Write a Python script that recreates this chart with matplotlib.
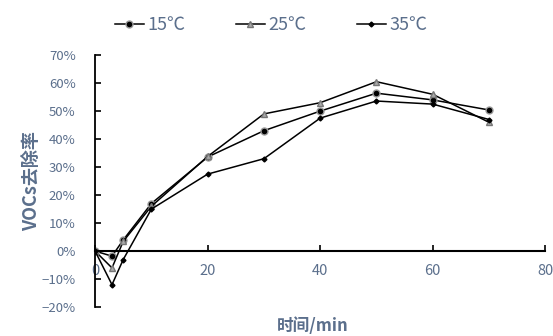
import matplotlib.pyplot as plt
from matplotlib.ticker import PercentFormatter

plt.rcParams['font.family'] = ['Noto Sans CJK SC', 'DejaVu Sans']

time_min = [0, 3, 5, 10, 20, 30, 40, 50, 60, 70]
r15 = [0, -1.8, 4.0, 17.0, 33.6, 43.0, 50.0, 56.4, 54.0, 50.4]
r25 = [0, -6.0, 3.5, 16.0, 33.8, 49.0, 53.0, 60.5, 56.0, 46.0]
r35 = [0, -12.0, -3.0, 15.0, 27.5, 33.0, 47.5, 53.6, 52.5, 47.0]
labels = ["15℃", "25℃", "35℃"]

text_color = "#5b6f8c"

fig = plt.figure(figsize=(5.53, 3.36), dpi=100)
ax = fig.add_axes([0.172, 0.086, 0.814, 0.75])

ax.plot(time_min, r15, color="black", linewidth=1.1, marker="o",
        markersize=5, markerfacecolor="black", markeredgecolor="#999999",
        label=labels[0])
ax.plot(time_min, r25, color="black", linewidth=1.1, marker="^",
        markersize=5, markerfacecolor="#aaaaaa", markeredgecolor="#777777",
        label=labels[1])
ax.plot(time_min, r35, color="black", linewidth=1.1, marker="D",
        markersize=2.5, markerfacecolor="black", markeredgecolor="black",
        label=labels[2])

ax.set_xlim(0, 80)
ax.set_ylim(-20, 70)
ax.set_xticks([0, 20, 40, 60, 80])
ax.set_yticks(range(-20, 71, 10))
ax.yaxis.set_major_formatter(PercentFormatter(decimals=0))

ax.spines["top"].set_visible(False)
ax.spines["right"].set_visible(False)
ax.spines["bottom"].set_position(("data", 0))
ax.spines["bottom"].set_linewidth(1.5)
ax.spines["left"].set_linewidth(1.3)

ax.tick_params(axis="both", direction="in", length=4, width=1.2,
               colors="black", labelcolor=text_color, labelsize=9.5)
ax.tick_params(axis="y", pad=14)
ax.tick_params(axis="x", labelsize=10.5, pad=9)

ax.set_ylabel("VOCs去除率", color=text_color, fontsize=13,
              fontweight="bold", labelpad=0)
fig.text(0.565, 0.03, "时间/min", color=text_color, fontsize=12,
         fontweight="bold", ha="center", va="center")

leg = fig.legend(loc="upper center", bbox_to_anchor=(0.49, 1.0), ncol=3,
                 frameon=False, fontsize=13, handlelength=1.6,
                 handletextpad=0.2, columnspacing=2.8)
for t in leg.get_texts():
    t.set_color(text_color)

fig.savefig("out.png", dpi=100)
